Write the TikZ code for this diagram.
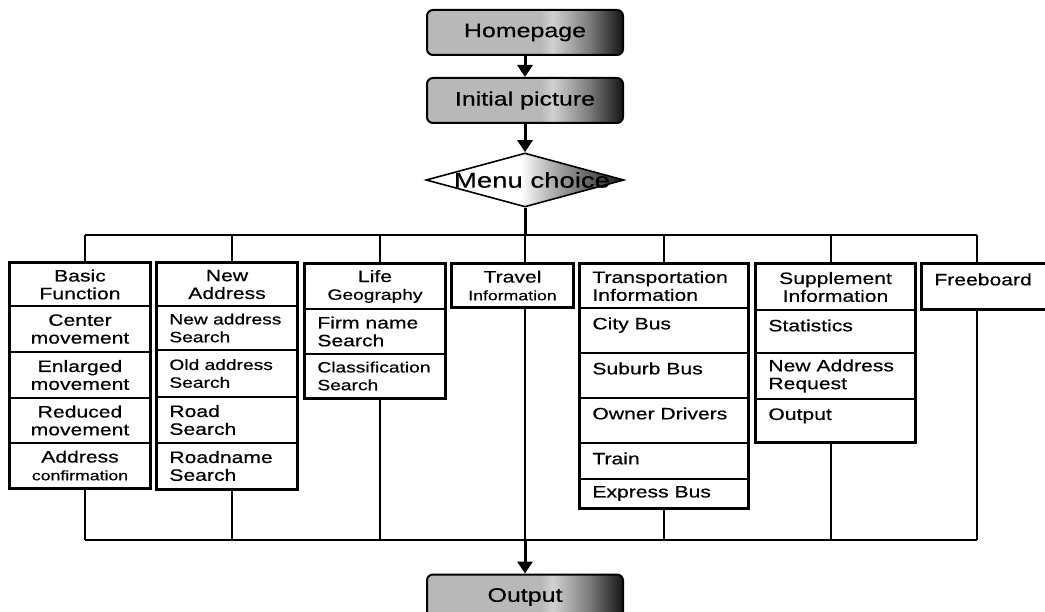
\documentclass[tikz,border=0pt]{standalone}
\usepackage{fontspec}
\setmainfont{Liberation Sans}[FakeStretch=1.28,FakeBold=0.5]
\usetikzlibrary{shapes.geometric,arrows.meta}
\pgfdeclarehorizontalshading{grad}{100bp}{color(0bp)=(black!28); color(25bp)=(black!28); color(54bp)=(black!28); color(57bp)=(black!18); color(66bp)=(black!50); color(75bp)=(black!92); color(100bp)=(black!92)}
\pgfdeclarehorizontalshading{dgrad}{100bp}{color(0bp)=(white); color(25bp)=(white); color(49bp)=(white); color(55bp)=(black!25); color(75bp)=(black!90); color(100bp)=(black!90)}
\newcommand\fN{\fontsize{16.5}{17.8}\selectfont}
\newcommand\fS{\fontsize{15}{17}\selectfont}
\newcommand\fT{\fontsize{13.8}{16}\selectfont}
\newcommand\fB{\fontsize{19.5}{21}\selectfont}
\newcommand\fD{\fontsize{21.5}{23}\selectfont}
\newcommand\mkcell[5]{\node[cellrect, minimum width={(#4-#2)*1pt}, minimum height={(#5-#3)*1pt}] (#1) at ({(#2+#4)/2},{(#3+#5)/2}) {};}
\newcommand\cellcc[6]{\mkcell{#1}{#2}{#3}{#4}{#5}\node[txt, align=center] (#1-t) at (#1.center) {#6};}
\newcommand\celllc[6]{\mkcell{#1}{#2}{#3}{#4}{#5}\node[txt, align=left, anchor=west] (#1-t) at ([xshift=13pt]#1.west) {#6};}
\newcommand\celllt[6]{\mkcell{#1}{#2}{#3}{#4}{#5}\node[txt, align=left, anchor=north west] (#1-t) at ([xshift=13pt,yshift=-10pt]#1.north west) {#6};}
\begin{document}
\begin{tikzpicture}[x=1pt,y=-1pt,
  cellrect/.style={draw, line width=1.6pt, inner sep=0pt, fill=white},
  outer/.style={draw, line width=3pt},
  wire/.style={line width=1.6pt},
  txt/.style={inner sep=0pt, font=\fN},
  grbox/.style={rounded corners=6pt, draw=black, line width=2pt, shade, shading=grad, minimum width=196pt, minimum height=45pt, inner sep=0pt, font=\fB},
  arr/.style={line width=3pt, -{Triangle[width=15pt,length=12pt]}}]
\useasboundingbox[fill=white] (0,0) rectangle (1045,612);

% top flow
\node[grbox] (home) at (525,32.5) {Homepage};
\node[grbox] (init) at (525,100.5) {Initial picture};
\node[diamond, draw, line width=1.6pt, shade, shading=dgrad, minimum width=198pt, minimum height=54pt, inner sep=0pt] (dia) at (525,180) {};
\node[font=\fD, inner sep=0pt] (dia-t) at (532,180) {Menu choice};
\draw[arr] (home.south) -- (init.north);
\draw[arr] (init.south) -- (dia.north);

% bus coordinates
\coordinate (t1) at (85,235);  \coordinate (b1) at (85,540);
\coordinate (t2) at (232,235); \coordinate (b2) at (232,540);
\coordinate (t3) at (380,235); \coordinate (b3) at (380,540);
\coordinate (t4) at (525,235); \coordinate (b4) at (525,540);
\coordinate (t5) at (664,235); \coordinate (b5) at (664,540);
\coordinate (t6) at (831,235); \coordinate (b6) at (831,540);
\coordinate (t7) at (977,235); \coordinate (b7) at (977,540);
\draw[wire] (t1) -- (t7);
\draw[wire] (b1) -- (b7);
\draw[line width=3pt] (dia.south) -- (t4);

% column 1
\cellcc{c1a}{10}{263}{150}{306}{Basic\\Function}
\cellcc{c1b}{10}{306}{150}{352}{Center\\movement}
\cellcc{c1c}{10}{352}{150}{398}{Enlarged\\movement}
\cellcc{c1d}{10}{398}{150}{443}{Reduced\\movement}
\cellcc{c1e}{10}{443}{150}{488}{Address\\{\fT confirmation}}
\draw[outer] (c1a.north west) rectangle (c1e.south east);
% column 2
\cellcc{c2a}{157}{263}{297}{306}{New\\Address}
\celllc{c2b}{157}{306}{297}{350}{\fS New address\\\fS Search}
\celllc{c2c}{157}{350}{297}{397}{\fS Old address\\\fS Search}
\celllc{c2d}{157}{397}{297}{443}{Road\\Search}
\celllc{c2e}{157}{443}{297}{489}{Roadname\\Search}
\draw[outer] (c2a.north west) rectangle (c2e.south east);
% column 3
\cellcc{c3a}{305}{264}{445}{309}{Life\\\fS Geography}
\celllc{c3b}{305}{309}{445}{354}{Firm name\\Search}
\celllc{c3c}{305}{354}{445}{398}{\fS Classification\\\fS Search}
\draw[outer] (c3a.north west) rectangle (c3c.south east);
% column 4
\cellcc{c4a}{452}{264}{573}{307}{Travel\\{\fT Information}}
\draw[outer] (c4a.north west) rectangle (c4a.south east);
% column 5
\celllc{c5a}{580}{264}{748}{308}{Transportation\\Information}
\celllt{c5b}{580}{308}{748}{353}{City Bus}
\celllt{c5c}{580}{353}{748}{398}{Suburb Bus}
\celllt{c5d}{580}{398}{748}{443}{Owner Drivers}
\celllt{c5e}{580}{443}{748}{479}{Train}
\celllc{c5f}{580}{479}{748}{508}{Express Bus}
\draw[outer] (c5a.north west) rectangle (c5f.south east);
% column 6
\cellcc{c6a}{756}{264}{915}{310}{Supplement\\Information}
\celllt{c6b}{756}{310}{915}{353}{Statistics}
\celllc{c6c}{756}{353}{915}{399}{New Address\\Request}
\celllt{c6d}{756}{399}{915}{442}{Output}
\draw[outer] (c6a.north west) rectangle (c6d.south east);
% column 7 (runs off the right edge)
\celllt{c7a}{922}{264}{1054}{309}{Freeboard}
\draw[outer] (c7a.north west) rectangle (c7a.south east);

% stems
\draw[wire] (t1) -- (t1 |- c1a.north);
\draw[wire] (t2) -- (t2 |- c2a.north);
\draw[wire] (t3) -- (t3 |- c3a.north);
\draw[wire] (t4) -- (t4 |- c4a.north);
\draw[wire] (t5) -- (t5 |- c5a.north);
\draw[wire] (t6) -- (t6 |- c6a.north);
\draw[wire] (t7) -- (t7 |- c7a.north);
\draw[wire] (b1 |- c1e.south) -- (b1);
\draw[wire] (b2 |- c2e.south) -- (b2);
\draw[wire] (b3 |- c3c.south) -- (b3);
\draw[wire] (b4 |- c4a.south) -- (b4);
\draw[wire] (b5 |- c5f.south) -- (b5);
\draw[wire] (b6 |- c6d.south) -- (b6);
\draw[wire] (b7 |- c7a.south) -- (b7);

% output
\node[grbox] (out) at (525,597) {Output};
\draw[arr] (b4) -- (out.north);
\end{tikzpicture}
\end{document}
